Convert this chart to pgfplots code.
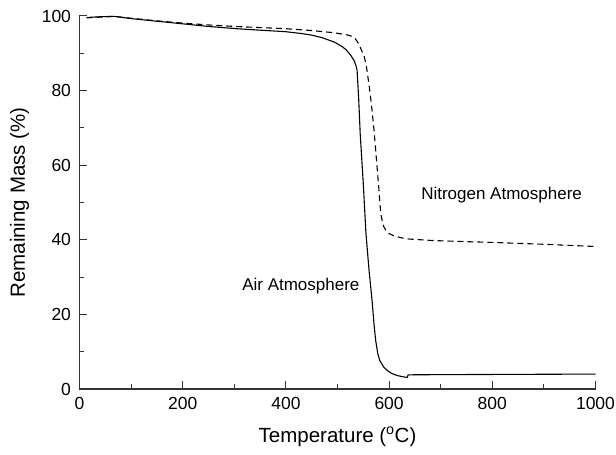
\documentclass[border=0pt]{standalone}
\usepackage{fontspec}
\setmainfont{Liberation Sans}
\usepackage{pgfplots}
\pgfplotsset{compat=1.18}
\begin{document}
\begin{tikzpicture}
\path[use as bounding box] (-79.5bp,-66bp) rectangle (536.5bp,389bp);
\begin{axis}[
  scale only axis,
  width=516bp, height=373bp,
  at={(0,0)}, anchor=south west,
  xmin=0, xmax=1000, ymin=0, ymax=100,
  axis x line*=bottom, axis y line*=left,
  axis line style={line width=1.3pt, color=black!80},
  xtick={0,200,...,1000}, ytick={0,20,...,100},
  minor xtick={100,300,500,700,900}, minor ytick={10,30,50,70,90},
  tick align=inside,
  major tick length=8bp, minor tick length=5bp,
  tick style={line width=1pt, color=black!80},
  /pgf/number format/assume math mode=true,
  /pgf/number format/1000 sep={},
  ticklabel style={font=\fontsize{17.5bp}{20bp}\selectfont},
  xticklabel style={yshift=-5bp},
  yticklabel style={xshift=-5bp},
  label style={font=\fontsize{20.5bp}{24bp}\selectfont},
  xlabel={Temperature (\textsuperscript{o}C)},
  ylabel={Remaining Mass (\%)},
  xlabel style={at={(axis description cs:0.5,-0.1287)}, anchor=center},
  ylabel style={at={(axis description cs:-0.1163,0.5)}, anchor=center},
  clip=false,
]
\addplot[black, line width=1.1pt] coordinates {
(14,99.6) (40,99.8) (67,99.9) (100,99.3) (150,98.6) (200,97.9) (250,97.2) (304,96.6)
(350,96.2) (399,95.8) (430,95.3) (449,94.9) (470,94.2) (494,93.0) (510,91.7) (517,90.9)
(525,89.6) (532,88.1) (536,86.6) (538,85.4) (541,78) (544,68.4) (550,55) (555,42)
(561,32) (567,23.7) (571,17) (574,13.0) (578,9.5) (582,7.6) (590,5.8) (597,4.9)
(606,4.1) (616,3.6) (626,3.3) (635,3.1) (637,3.8) (700,3.85) (800,3.9) (900,3.95) (1000,4.0)
};
\addplot[black, line width=1.1pt, dashed, dash pattern=on 6bp off 4bp] coordinates {
(14,99.5) (40,99.7) (67,99.9) (100,99.4) (150,98.7) (200,98.1) (250,97.6) (300,97.2)
(350,96.9) (399,96.6) (450,96.1) (494,95.5) (520,94.9) (529,94.5) (535,93.8) (540,92.8)
(546,91.0) (552,89) (556,86.5) (559,83.6) (563,79.5) (567,74.7) (571,69) (574,64)
(577,59) (580,54) (582,50) (584,47) (587,44.8) (590,43.4) (595,42.3) (601,41.6)
(610,41.0) (625,40.5) (639,40.2) (685,39.8) (750,39.5) (800,39.3) (900,38.8) (1000,38.2)
};
\node[font=\fontsize{17bp}{20bp}\selectfont] at (axis cs:818,52) {Nitrogen Atmosphere};
\node[font=\fontsize{17bp}{20bp}\selectfont] at (axis cs:429,27.5) {Air Atmosphere};
\end{axis}
\end{tikzpicture}
\end{document}
